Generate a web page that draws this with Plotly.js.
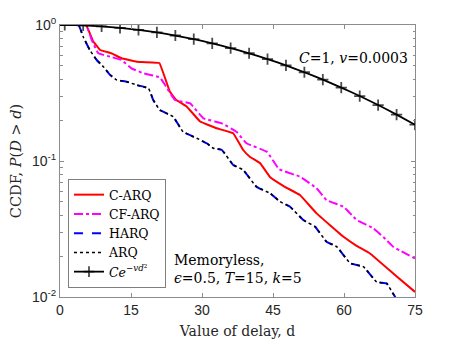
<!DOCTYPE html>
<html>
<head>
<meta charset="utf-8">
<script src="https://cdn.plot.ly/plotly-3.0.1.min.js"></script>
<style>
  body { margin: 0; background: #fff; }
  #chart { width: 459px; height: 344px; }
</style>
</head>
<body>
<div id="chart"></div>
<script>
// C-ARQ
var dCarq = [0, 5.5, 7.0, 8.45, 10.9, 13.0, 16.2, 21.0, 23.2, 24.5, 26.8, 29.6, 33.1, 36.6, 38.7, 40.1, 42.3, 44.4, 47.5, 50.7, 54.2, 59.9, 62.5, 65.5, 70.4, 75];
var pCarq = [1, 1, 0.759, 0.655, 0.619, 0.569, 0.537, 0.525, 0.324, 0.282, 0.251, 0.195, 0.174, 0.160, 0.1205, 0.1076, 0.0962, 0.0759, 0.0646, 0.0562, 0.0412, 0.0277, 0.0240, 0.0209, 0.0149, 0.0109];

// CF-ARQ
var dCfarq = [0, 5.5, 6.7, 8.1, 10.6, 13.0, 15.1, 17.6, 21.1, 22.2, 24.3, 27.5, 30.3, 34.2, 37.3, 39.4, 43.7, 46.3, 50.7, 54.2, 56.3, 59.9, 62.7, 66.2, 69.0, 70.4, 75];
var pCfarq = [1, 1, 0.776, 0.619, 0.585, 0.553, 0.480, 0.442, 0.412, 0.362, 0.281, 0.265, 0.206, 0.189, 0.164, 0.135, 0.117, 0.0871, 0.0767, 0.0630, 0.0516, 0.0461, 0.0368, 0.0320, 0.0262, 0.0234, 0.0192];

// HARQ and ARQ (same curve)
var dArq = [0, 3.9, 4.9, 6.3, 7.75, 9.15, 10.6, 12.0, 14.1, 16.2, 18.7, 19.7, 21.1, 23.9, 26.0, 28.9, 31.0, 32.4, 34.2, 36.6, 38.7, 41.5, 44.4, 46.5, 48.6, 51.4, 53.9, 56.3, 58.5, 61.3, 64.1, 66.9, 69.0, 70.8, 72.0, 75];
var pArq = [1, 1, 0.820, 0.655, 0.553, 0.494, 0.429, 0.394, 0.383, 0.362, 0.342, 0.281, 0.237, 0.212, 0.164, 0.147, 0.135, 0.124, 0.1205, 0.0935, 0.0859, 0.0647, 0.0578, 0.0502, 0.0461, 0.0368, 0.0329, 0.0255, 0.0234, 0.0177, 0.0167, 0.0129, 0.0126, 0.0100, 0.0087, 0.0071];

// Ce^{-vd^2}, C=1, v=0.0003
var dBound = [0, 1, 4.89, 8.79, 12.68, 16.58, 20.47, 24.37, 28.26, 32.16, 36.05, 39.95, 43.84, 47.74, 51.63, 55.53, 59.42, 63.32, 67.21, 71.11, 75];
var pBound = [1, 0.9997, 0.9928, 0.9771, 0.9529, 0.9208, 0.8818, 0.8368, 0.7869, 0.7333, 0.6771, 0.6196, 0.5618, 0.5048, 0.4494, 0.3965, 0.3467, 0.3004, 0.2579, 0.2194, 0.1850];

var xTicks = [0, 15, 30, 45, 60, 75];
var yTicks = [0.01, 0.1, 1];
var yTickText = ["10<sup>-2</sup>", "10<sup>-1</sup>", "10<sup>0</sup>"];

var serif = "DejaVu Serif, Liberation Serif, serif";
var sans = "Liberation Sans, Arial, sans-serif";

var markSizes = dBound.map(function (d, i) { return i === 0 ? 0 : 8; });

var data = [
  { x: dCarq, y: pCarq, name: "C-ARQ", mode: "lines",
    line: { color: "#ff0000", width: 2, shape: "spline", smoothing: 0.15 } },
  { x: dCfarq, y: pCfarq, name: "CF-ARQ", mode: "lines",
    line: { color: "#ff00ff", width: 2, dash: "dashdot", shape: "spline", smoothing: 0.3 } },
  { x: dArq, y: pArq, name: "HARQ", mode: "lines",
    line: { color: "#0000ff", width: 2, dash: "dash", shape: "spline", smoothing: 0.3 } },
  { x: dArq, y: pArq, name: "ARQ", mode: "lines",
    line: { color: "#000000", width: 1.5, dash: "dot", shape: "spline", smoothing: 0.3 } },
  { x: dBound, y: pBound, name: "<i>Ce</i><sup>\u2212<i>vd</i>\u00b2</sup>", mode: "lines+markers",
    line: { color: "#000000", width: 1.8, shape: "spline", smoothing: 0.5 },
    marker: { symbol: "cross-thin", size: markSizes, color: "#000", line: { color: "#000", width: 1.8 } } }
];

var axisCommon = {
  showgrid: false, zeroline: false, showline: true, mirror: "ticks",
  linecolor: "#8c8c8c", linewidth: 1, ticks: "inside", ticklen: 4,
  tickcolor: "#8c8c8c", tickfont: { family: sans, size: 14, color: "#262626" }
};

var layout = {
  width: 459, height: 344,
  margin: { l: 60, r: 44, t: 25, b: 47 },
  paper_bgcolor: "#fff", plot_bgcolor: "#fff",
  showlegend: true,
  legend: {
    x: 0.0225, y: 0.033, xanchor: "left", yanchor: "bottom",
    bgcolor: "#fff", bordercolor: "#7f7f7f", borderwidth: 1,
    font: { family: serif, size: 12.5, color: "#000" },
    tracegroupgap: 0
  },
  xaxis: Object.assign({}, axisCommon, {
    range: [0, 75], tickmode: "array", tickvals: xTicks,
    title: { text: "Value of delay, d", font: { family: serif, size: 14, color: "#262626" }, standoff: 9 }
  }),
  yaxis: Object.assign({}, axisCommon, {
    type: "log", range: [-2, 0], tickmode: "array", tickvals: yTicks, ticktext: yTickText,
    minor: { ticks: "inside", ticklen: 2.5, tickcolor: "#8c8c8c",
      tickvals: [0.02, 0.03, 0.04, 0.05, 0.06, 0.07, 0.08, 0.09, 0.2, 0.3, 0.4, 0.5, 0.6, 0.7, 0.8, 0.9] },
    title: { text: "CCDF, <i>P</i>(<i>D</i> &gt; <i>d</i>)", font: { family: serif, size: 14.5, color: "#262626" }, standoff: 6 }
  }),
  annotations: [
    { xref: "paper", yref: "paper", x: 0.985, y: 0.879, xanchor: "right", yanchor: "middle",
      text: "<i>C</i>=1, <i>v</i>=0.0003", showarrow: false,
      font: { family: serif, size: 14, color: "#000" } },
    { xref: "paper", yref: "paper", x: 0.315, y: 0.103, xanchor: "left", yanchor: "middle", align: "left",
      text: "Memoryless,<br><i>\u03f5</i>=0.5, <i>T</i>=15, <i>k</i>=5", showarrow: false,
      font: { family: serif, size: 14, color: "#000" } }
  ]
};

Plotly.newPlot("chart", data, layout, { displayModeBar: false, staticPlot: true });
</script>
</body>
</html>
